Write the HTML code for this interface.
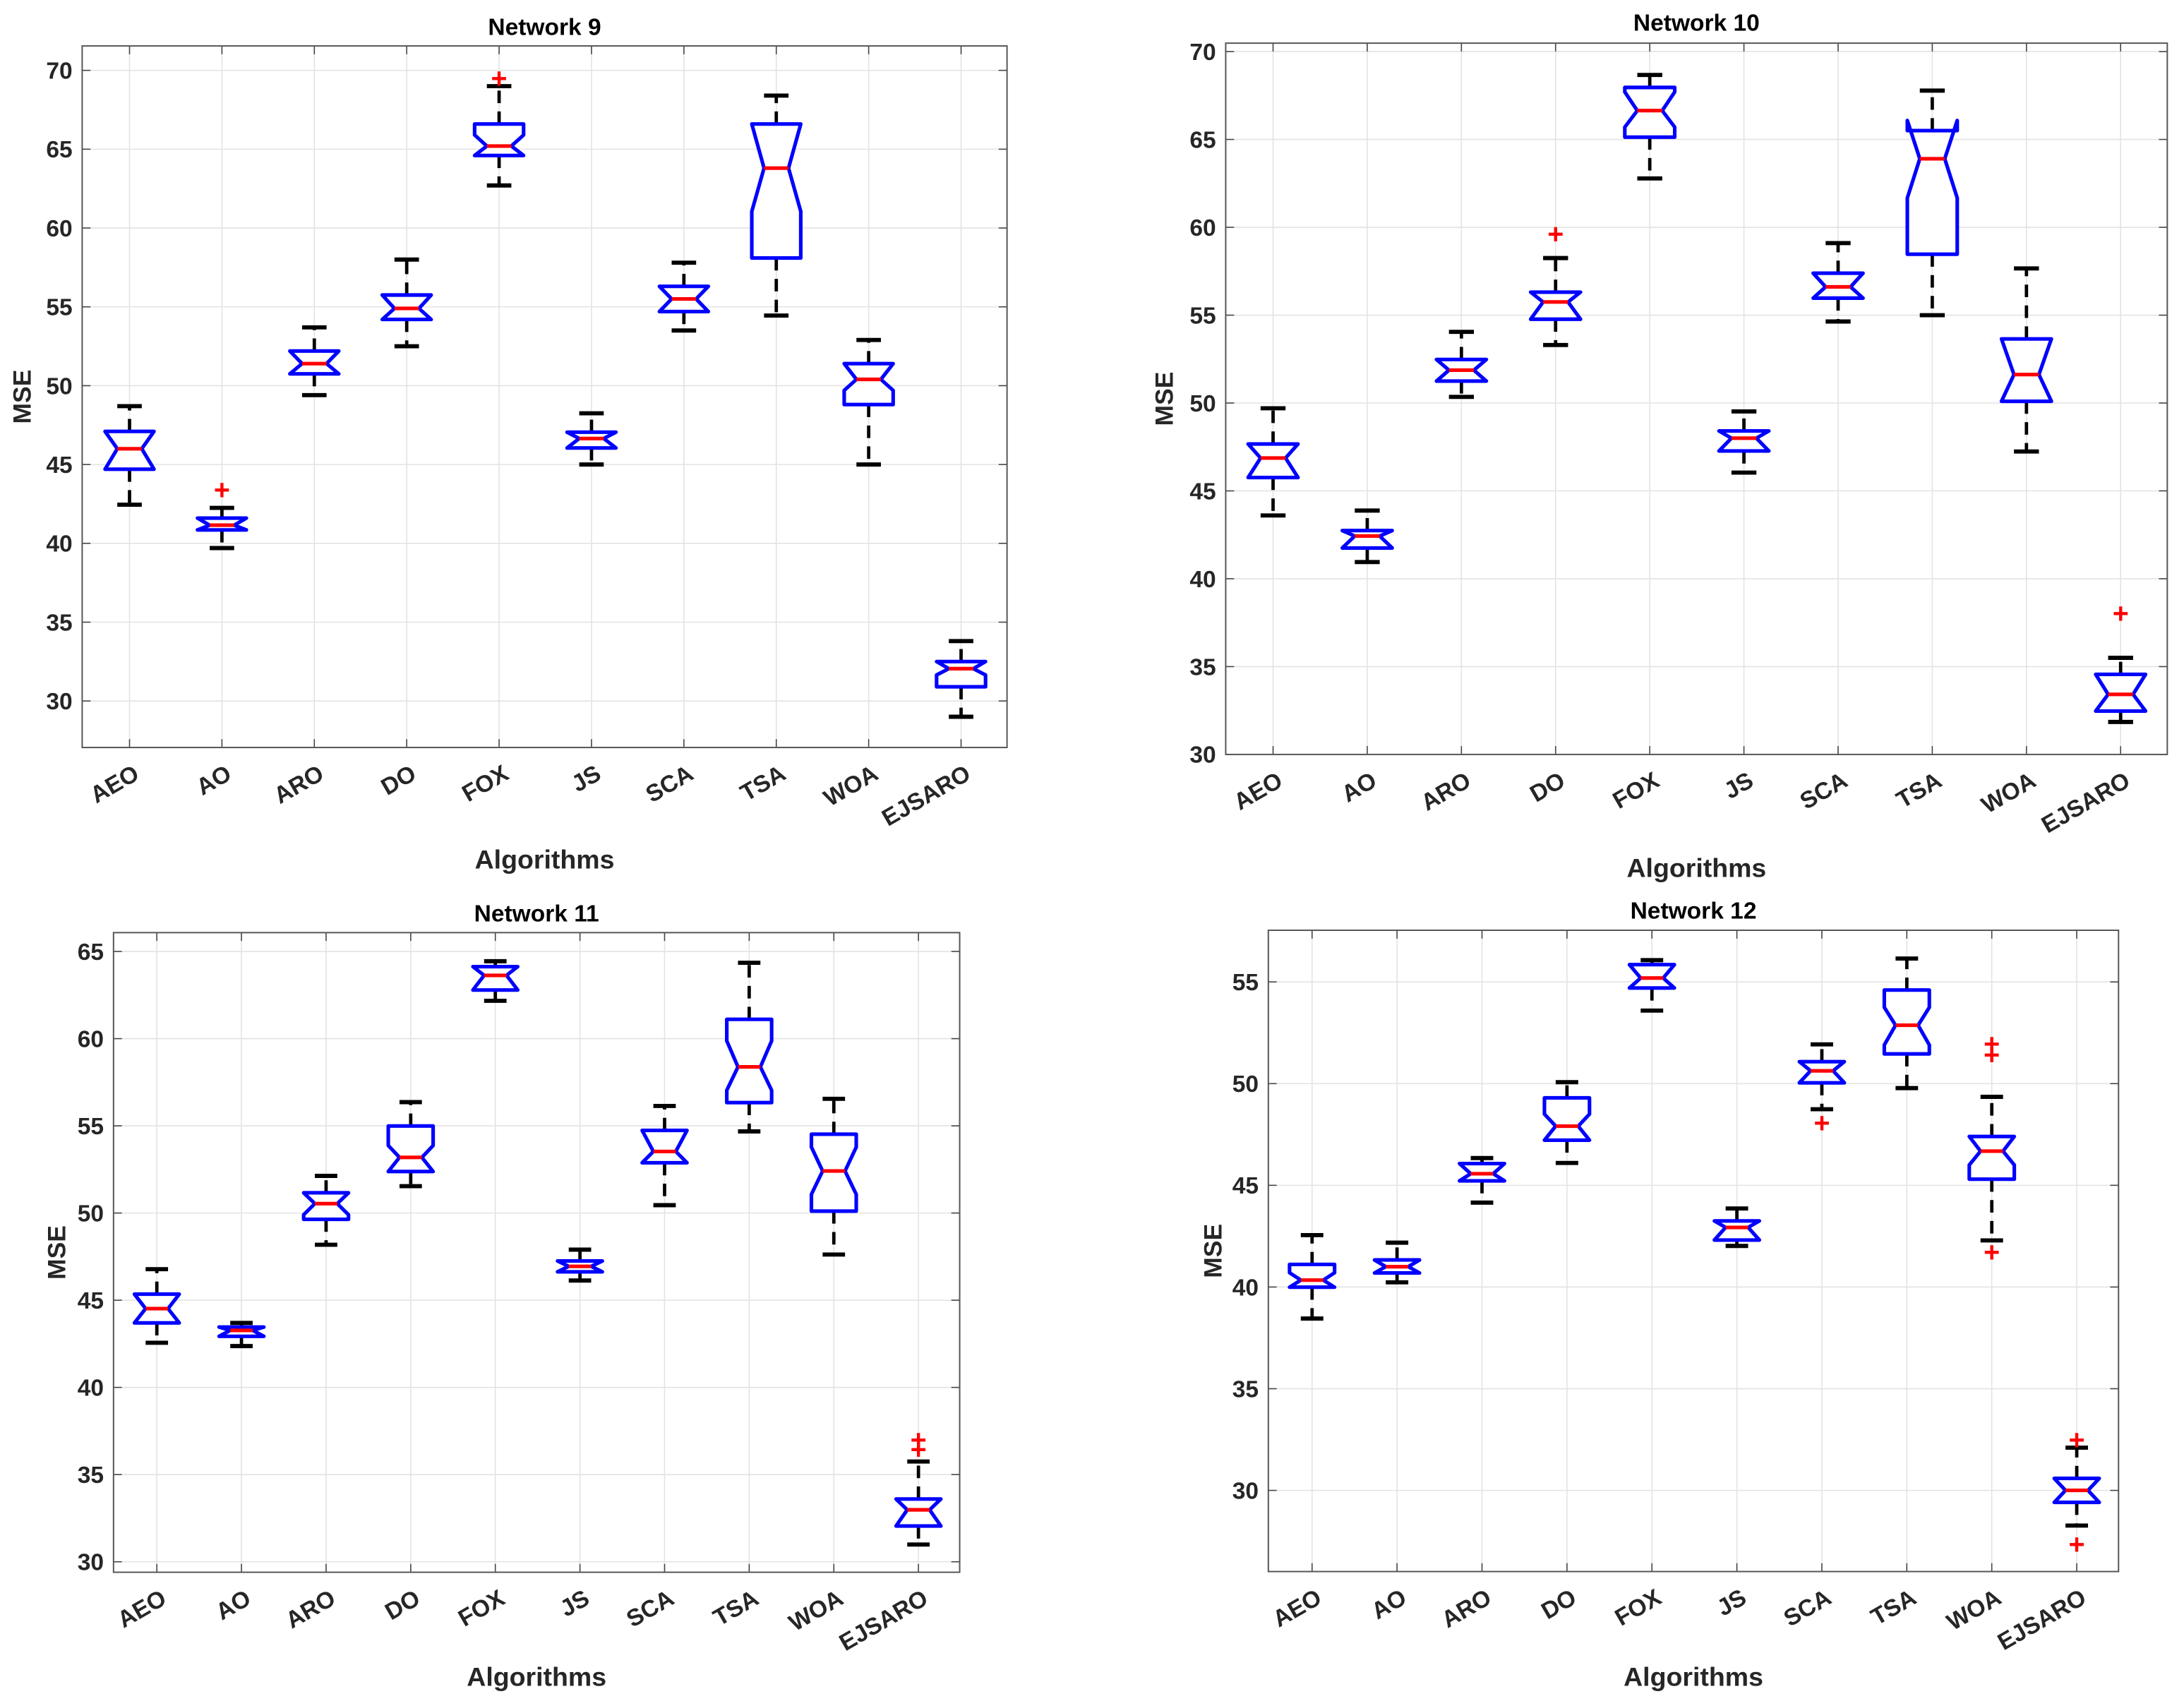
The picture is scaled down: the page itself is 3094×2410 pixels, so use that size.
<!DOCTYPE html>
<html><head><meta charset="utf-8"><title>Network MSE boxplots</title>
<style>
html,body{margin:0;padding:0;background:#fff;}
svg{display:block;}
text{font-family:"Liberation Sans Narrow","Liberation Sans",sans-serif;font-weight:bold;fill:#262626;}
.big{font-family:"Liberation Sans",sans-serif;}
</style></head>
<body>
<svg id="fig" xmlns="http://www.w3.org/2000/svg" width="3094" height="2410" viewBox="0 0 1568 1222" preserveAspectRatio="none"></svg>
<script>
const categories = ["AEO","AO","ARO","DO","FOX","JS","SCA","TSA","WOA","EJSARO"];

// Network 9
const n9Lower  = [42.45,39.7,49.4,52.5,62.7,45.0,53.5,54.45,45.0,29.0];
const n9Q1     = [44.7,40.85,50.75,54.2,64.6,46.05,54.7,58.1,48.8,30.9];
const n9Median = [46.0,41.15,51.4,54.9,65.2,46.65,55.5,63.8,50.4,32.05];
const n9Q3     = [47.1,41.6,52.2,55.75,66.6,47.05,56.3,66.6,51.4,32.5];
const n9Upper  = [48.7,42.25,53.7,58.0,69.0,48.25,57.8,68.4,52.9,33.8];
const n9NotchLo = [44.7,40.85,50.75,54.2,64.6,46.05,54.7,61.05,49.7,31.65];
const n9NotchHi = [47.1,41.6,52.2,55.75,65.9,47.05,56.3,66.6,51.4,32.5];
const n9Outliers = [[],[43.4],[],[],[69.5],[],[],[],[],[]];
const n9Ticks = [30,35,40,45,50,55,60,65,70];

// Network 10
const n10Lower  = [43.6,40.95,50.35,53.3,62.78,46.04,54.64,55.0,47.24,31.85];
const n10Q1     = [45.76,41.75,51.25,54.77,65.13,47.27,55.97,58.47,50.1,32.47];
const n10Median = [46.87,42.43,51.87,55.75,66.64,48.0,56.61,63.9,51.62,33.42];
const n10Q3     = [47.67,42.74,52.48,56.31,67.96,48.41,57.39,65.5,53.65,34.56];
const n10Upper  = [49.7,43.88,54.05,58.25,68.67,49.52,59.1,67.78,57.66,35.5];
const n10NotchLo = [45.76,41.75,51.25,54.77,65.7,47.27,55.97,61.67,50.1,32.47];
const n10NotchHi = [47.67,42.74,52.48,56.31,67.7,48.41,57.39,66.08,53.65,34.56];
const n10Outliers = [[],[],[],[59.64],[],[],[],[],[],[38.05]];
const n10Ticks = [30,35,40,45,50,55,60,65,70];

// Network 11
const n11Lower  = [42.56,42.37,48.18,51.54,62.17,46.13,50.45,54.68,47.62,30.99];
const n11Q1     = [43.7,42.93,49.64,52.38,62.79,46.63,52.88,56.33,50.11,32.05];
const n11Median = [44.52,43.27,50.54,53.19,63.63,46.94,53.53,58.38,52.41,32.98];
const n11Q3     = [45.35,43.46,51.16,54.99,64.13,47.25,54.74,61.11,54.52,33.6];
const n11Upper  = [46.78,43.7,52.13,56.36,64.44,47.9,56.14,64.35,56.55,35.75];
const n11NotchLo = [43.7,42.93,49.9,52.38,62.79,46.63,52.88,57.04,51.07,32.05];
const n11NotchHi = [45.35,43.46,51.16,53.87,64.13,47.25,54.74,59.87,53.78,33.6];
const n11Outliers = [[],[],[],[],[],[],[],[],[],[37.0,36.46]];
const n11Ticks = [30,35,40,45,50,55,60,65];

// Network 12
const n12Lower  = [38.45,40.23,44.15,46.1,53.59,42.02,48.74,49.78,42.29,28.27];
const n12Q1     = [39.99,40.69,45.22,47.22,54.7,42.31,50.04,51.46,45.3,29.41];
const n12Median = [40.34,41.0,45.57,47.91,55.19,42.93,50.63,52.87,46.68,30.0];
const n12Q3     = [41.11,41.33,46.07,49.3,55.85,43.25,51.08,54.6,47.4,30.59];
const n12Upper  = [42.55,42.18,46.34,50.07,56.07,43.86,51.93,56.15,49.35,32.1];
const n12NotchLo = [39.99,40.69,45.22,47.22,54.7,42.31,50.04,51.9,46.0,29.41];
const n12NotchHi = [40.7,41.33,46.07,48.5,55.85,43.25,51.08,53.75,47.4,30.59];
const n12Outliers = [[],[],[],[],[],[],[48.07],[],[51.96,51.43,41.73],[32.5,27.36]];
const n12Ticks = [30,35,40,45,50,55];

const NS = "http://www.w3.org/2000/svg";
const svg = document.getElementById("fig");
function mk(tag, attrs, parent){
  const e = document.createElementNS(NS, tag);
  for (const k in attrs) e.setAttribute(k, attrs[k]);
  (parent||svg).appendChild(e);
  return e;
}

const panels = [
  {id:"network-9", title:"Network 9", L:59, R:723, T:33, B:537, yMin:27.05, yMax:71.55, x1:93, x10:690,
   titleY:25, xlabY:624, mseX:22,
   lo:n9Lower,q1:n9Q1,md:n9Median,q3:n9Q3,hi:n9Upper,nl:n9NotchLo,nh:n9NotchHi,out:n9Outliers,ticks:n9Ticks},
  {id:"network-10", title:"Network 10", L:880, R:1556, T:31, B:542, yMin:30, yMax:70.48, x1:914, x10:1522.5,
   titleY:22, xlabY:630, mseX:842,
   lo:n10Lower,q1:n10Q1,md:n10Median,q3:n10Q3,hi:n10Upper,nl:n10NotchLo,nh:n10NotchHi,out:n10Outliers,ticks:n10Ticks},
  {id:"network-11", title:"Network 11", L:81.5, R:689, T:670, B:1129.5, yMin:29.4, yMax:66.08, x1:112.6, x10:659.4,
   titleY:662, xlabY:1211, mseX:47,
   lo:n11Lower,q1:n11Q1,md:n11Median,q3:n11Q3,hi:n11Upper,nl:n11NotchLo,nh:n11NotchHi,out:n11Outliers,ticks:n11Ticks},
  {id:"network-12", title:"Network 12", L:910.6, R:1521, T:668.3, B:1129, yMin:26.01, yMax:57.54, x1:942, x10:1491,
   titleY:660, xlabY:1211, mseX:877,
   lo:n12Lower,q1:n12Q1,md:n12Median,q3:n12Q3,hi:n12Upper,nl:n12NotchLo,nh:n12NotchHi,out:n12Outliers,ticks:n12Ticks}
];

panels.forEach(p => {
  const g = mk("g", {});
  
  
  const ys = v => p.B - (v - p.yMin) / (p.yMax - p.yMin) * (p.B - p.T);
  const sp = (p.x10 - p.x1) / 9;
  const xs = i => p.x1 + i * sp;
  const cx = (p.L + p.R) / 2;

  const bg = mk("rect", {x:p.L, y:p.T, width:p.R-p.L, height:p.B-p.T, fill:"#fff"}, g);
  
  

  p.ticks.forEach(t => {
    const y = ys(t);
    const gl = mk("line", {x1:p.L, x2:p.R, y1:y, y2:y, stroke:"#e3e3e3", "stroke-width":0.8}, g);
    
    
    mk("line", {x1:p.L, x2:p.L+6, y1:y, y2:y, stroke:"#444", "stroke-width":0.8}, g);
    mk("line", {x1:p.R-6, x2:p.R, y1:y, y2:y, stroke:"#444", "stroke-width":0.8}, g);
    const tl = mk("text", {x:p.L-7, y:y+6, "text-anchor":"end", "font-size":17}, g);
    tl.textContent = t;
    
    
  });
  categories.forEach((c, i) => {
    const x = xs(i);
    const gl = mk("line", {x1:x, x2:x, y1:p.T, y2:p.B, stroke:"#e3e3e3", "stroke-width":0.8}, g);
    
    
    mk("line", {x1:x, x2:x, y1:p.B-6, y2:p.B, stroke:"#444", "stroke-width":0.8}, g);
    mk("line", {x1:x, x2:x, y1:p.T, y2:p.T+6, stroke:"#444", "stroke-width":0.8}, g);
    const ax = x + 8, ay = p.B + 22;
    const tl = mk("text", {x:ax, y:ay, "text-anchor":"end", "font-size":17, transform:`rotate(-30 ${ax} ${ay})`}, g);
    tl.textContent = c;
    
    
  });

  const fr = mk("rect", {x:p.L, y:p.T, width:p.R-p.L, height:p.B-p.T, fill:"none", stroke:"#555", "stroke-width":1}, g);
  
  

  const hw = sp * 0.265, ins = hw * 0.5, cap = hw * 0.5;
  categories.forEach((c, i) => {
    const x = xs(i);
    const bx = mk("g", {}, g);
    
    
    const yq1 = ys(p.q1[i]), yq3 = ys(p.q3[i]), ymd = ys(p.md[i]);
    const ylo = ys(p.lo[i]), yhi = ys(p.hi[i]);
    const w1 = mk("line", {x1:x, x2:x, y1:yq3, y2:yhi, stroke:"#000", "stroke-width":2.4, "stroke-dasharray":"9 6"}, bx);
    
    
    const w2 = mk("line", {x1:x, x2:x, y1:yq1, y2:ylo, stroke:"#000", "stroke-width":2.4, "stroke-dasharray":"9 6"}, bx);
    
    
    const c1 = mk("line", {x1:x-cap, x2:x+cap, y1:yhi, y2:yhi, stroke:"#000", "stroke-width":3}, bx);
    
    
    const c2 = mk("line", {x1:x-cap, x2:x+cap, y1:ylo, y2:ylo, stroke:"#000", "stroke-width":3}, bx);
    
    
    const L = x - hw, R = x + hw, ynl = ys(p.nl[i]), ynh = ys(p.nh[i]);
    const pts = [[L,yq1],[L,ynl],[L+ins,ymd],[L,ynh],[L,yq3],[R,yq3],[R,ynh],[R-ins,ymd],[R,ynl],[R,yq1]];
    const poly = mk("polygon", {points: pts.map(q => q.join(",")).join(" "), fill:"#fff", stroke:"#0000ff", "stroke-width":2.6, "stroke-linejoin":"round"}, bx);
    
    
    const md = mk("line", {x1:L+ins, x2:R-ins, y1:ymd, y2:ymd, stroke:"#ff0000", "stroke-width":2.6}, bx);
    
    
    p.out[i].forEach(v => {
      const o = mk("text", {x:x, y:ys(v)+7, "text-anchor":"middle", "font-size":20, style:"fill:#ff0000;font-family:'Liberation Sans',sans-serif;font-weight:bold"}, bx);
      o.textContent = "+";
      
      
    });
  });

  const tt = mk("text", {x:cx, y:p.titleY, "text-anchor":"middle", "font-size":17, class:"big", style:"fill:#000"}, g);
  tt.textContent = p.title;
  
  
  const xl = mk("text", {x:cx, y:p.xlabY, "text-anchor":"middle", "font-size":19, class:"big"}, g);
  xl.textContent = "Algorithms";
  
  
  const my = (p.T + p.B) / 2;
  const yl = mk("text", {x:p.mseX, y:my, "text-anchor":"middle", "font-size":18, class:"big", transform:`rotate(-90 ${p.mseX} ${my})`}, g);
  yl.textContent = "MSE";
  
  
});
</script>
</body></html>
